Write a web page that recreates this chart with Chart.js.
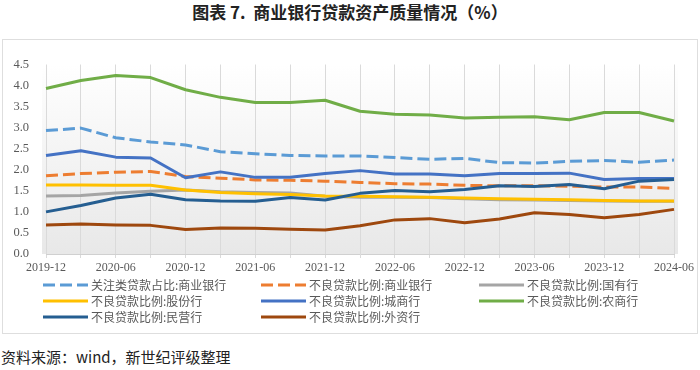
<!DOCTYPE html>
<html>
<head>
<meta charset="utf-8">
<script src="https://cdn.jsdelivr.net/npm/chart.js@4"></script>
<style>
    body { margin: 0; width: 700px; height: 370px; background: #fff; position: relative; overflow: hidden; }
    #title { position: absolute; left: 0; top: 2px; width: 700px; text-align: center; font: 700 17px "Noto Sans CJK SC"; line-height: 20px; color: #222; }
    #box { position: absolute; left: 2px; top: 39px; width: 694px; height: 293px; border: 1px solid #dedede; }
    #source { position: absolute; left: 1px; top: 347px; font: 15px "Noto Sans CJK SC"; line-height: 20px; color: #222; }
</style>
</head>
<body>
<div id="title">图表 7.&nbsp; 商业银行贷款资产质量情况（%）</div>
<div id="box"><canvas id="chart" width="694" height="293"></canvas></div>
<div id="source">资料来源：wind，新世纪评级整理</div>
<script>
const quarters = ['2019-12', '2020-03', '2020-06', '2020-09', '2020-12', '2021-03', '2021-06', '2021-09', '2021-12',
    '2022-03', '2022-06', '2022-09', '2022-12', '2023-03', '2023-06', '2023-09', '2023-12', '2024-03', '2024-06'];

const specialMention = [2.93, 2.99, 2.76, 2.66, 2.59, 2.43, 2.38, 2.34, 2.33, 2.33, 2.29, 2.25, 2.27, 2.17, 2.16, 2.20, 2.22, 2.18, 2.23];
const nplCommercial = [1.86, 1.91, 1.94, 1.96, 1.84, 1.80, 1.76, 1.75, 1.73, 1.70, 1.67, 1.66, 1.63, 1.62, 1.62, 1.61, 1.59, 1.59, 1.56];
const nplStateOwned = [1.38, 1.39, 1.45, 1.49, 1.52, 1.48, 1.46, 1.45, 1.37, 1.35, 1.35, 1.34, 1.31, 1.29, 1.28, 1.27, 1.26, 1.25, 1.25];
const nplJointStock = [1.64, 1.64, 1.63, 1.63, 1.52, 1.46, 1.43, 1.41, 1.38, 1.37, 1.36, 1.35, 1.33, 1.31, 1.30, 1.29, 1.27, 1.26, 1.26];
const nplCityBank = [2.34, 2.45, 2.30, 2.28, 1.81, 1.95, 1.82, 1.82, 1.91, 1.98, 1.90, 1.90, 1.86, 1.91, 1.91, 1.92, 1.77, 1.79, 1.79];
const nplRuralBank = [3.93, 4.12, 4.24, 4.19, 3.90, 3.72, 3.60, 3.60, 3.65, 3.39, 3.32, 3.30, 3.23, 3.25, 3.26, 3.19, 3.36, 3.36, 3.16];
const nplPrivate = [1.00, 1.15, 1.33, 1.42, 1.29, 1.26, 1.25, 1.34, 1.28, 1.44, 1.51, 1.48, 1.53, 1.62, 1.60, 1.65, 1.55, 1.73, 1.77];
const nplForeign = [0.69, 0.71, 0.69, 0.68, 0.58, 0.62, 0.61, 0.59, 0.57, 0.67, 0.81, 0.84, 0.74, 0.83, 0.98, 0.94, 0.86, 0.94, 1.06];

const yTicks = [0, 0.5, 1.0, 1.5, 2.0, 2.5, 3.0, 3.5, 4.0, 4.5];

const series = [
    { label: '关注类贷款占比:商业银行', data: specialMention, color: '#5b9bd5', dash: [12, 5] },
    { label: '不良贷款比例:商业银行', data: nplCommercial, color: '#ed7d31', dash: [12, 5] },
    { label: '不良贷款比例:国有行', data: nplStateOwned, color: '#a5a5a5', dash: [] },
    { label: '不良贷款比例:股份行', data: nplJointStock, color: '#ffc000', dash: [] },
    { label: '不良贷款比例:城商行', data: nplCityBank, color: '#4472c4', dash: [] },
    { label: '不良贷款比例:农商行', data: nplRuralBank, color: '#70ad47', dash: [] },
    { label: '不良贷款比例:民营行', data: nplPrivate, color: '#255e91', dash: [] },
    { label: '不良贷款比例:外资行', data: nplForeign, color: '#9e480e', dash: [] }
];

// plot area gradient
const plotBackground = {
    id: 'plotBackground',
    beforeDraw(chart) {
        const { ctx, chartArea: a } = chart;
        const g = ctx.createLinearGradient(0, a.top, 0, a.bottom);
        g.addColorStop(0, '#ffffff');
        g.addColorStop(1, '#e8e8e8');
        ctx.save();
        ctx.fillStyle = g;
        ctx.fillRect(a.left - 4, a.top, a.right - a.left + 8, a.bottom - a.top);
        ctx.restore();
    }
};

// three column legend under the axis
const gridLegend = {
    id: 'gridLegend',
    afterDraw(chart) {
        const ctx = chart.ctx;
        const colX = [40, 258, 476];
        const rowY = [245, 261, 277];
        ctx.save();
        ctx.font = '12px "Noto Sans CJK SC"';
        ctx.textBaseline = 'middle';
        chart.data.datasets.forEach((ds, i) => {
            const x = colX[i % 3];
            const y = rowY[Math.floor(i / 3)];
            ctx.strokeStyle = ds.borderColor;
            ctx.lineWidth = 3;
            ctx.setLineDash(ds.borderDash || []);
            ctx.beginPath();
            ctx.moveTo(x, y);
            ctx.lineTo(x + 45, y);
            ctx.stroke();
            ctx.setLineDash([]);
            ctx.fillStyle = '#595959';
            ctx.fillText(ds.label, x + 48, y);
        });
        ctx.restore();
    }
};

new Chart(document.getElementById('chart'), {
    type: 'line',
    data: {
        labels: quarters,
        datasets: series.map((s, i) => ({
            label: s.label,
            data: s.data,
            borderColor: s.color,
            backgroundColor: s.color,
            borderDash: s.dash,
            borderWidth: 3,
            borderJoinStyle: 'round',
            pointRadius: 0,
            tension: 0,
            order: -i
        }))
    },
    options: {
        responsive: false,
        animation: false,
        layout: { padding: { top: 11, right: 20, bottom: 59, left: 0 } },
        plugins: {
            legend: { display: false },
            tooltip: { enabled: false }
        },
        scales: {
            x: {
                offset: false,
                afterFit(scale) { scale.height = 20; },
                grid: { color: '#dadada', lineWidth: 1, tickLength: 4 },
                border: { color: '#d0d0d0' },
                ticks: {
                    autoSkip: false,
                    maxRotation: 0,
                    padding: 3,
                    color: '#595959',
                    font: { family: 'Liberation Serif', size: 12 },
                    callback(value, index) { return index % 2 === 0 ? quarters[index] : ''; }
                }
            },
            y: {
                min: yTicks[0],
                max: yTicks[yTicks.length - 1],
                afterFit(scale) { scale.width = 43; },
                afterBuildTicks(scale) { scale.ticks = yTicks.map(v => ({ value: v })); },
                grid: { display: false, drawTicks: false },
                border: { display: false },
                ticks: {
                    padding: 17,
                    color: '#595959',
                    font: { family: 'Liberation Serif', size: 12.5 },
                    callback(value) { return value.toFixed(1); }
                }
            }
        }
    },
    plugins: [plotBackground, gridLegend]
});
</script>
</body>
</html>
